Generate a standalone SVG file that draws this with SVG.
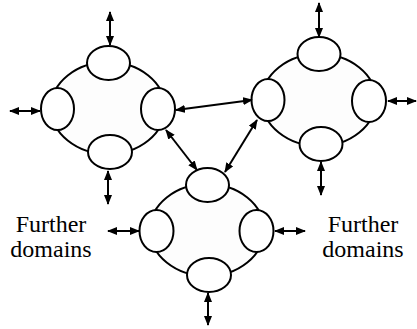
<svg xmlns="http://www.w3.org/2000/svg" width="417" height="329" viewBox="0 0 417 329">
<defs>
<marker id="ah" viewBox="0 0 10 8" refX="9" refY="4" markerWidth="10" markerHeight="8" markerUnits="userSpaceOnUse" orient="auto-start-reverse">
<path d="M0,0 L10,4 L0,8 z" fill="#000"/>
</marker>
<style>
.ring{fill:#fdfdfd;stroke:#000;stroke-width:2}
.port{fill:#fff;stroke:#000;stroke-width:2}
.arr{fill:none;stroke:#000;stroke-width:2;marker-start:url(#ah);marker-end:url(#ah)}
.lbl{font-family:"Liberation Serif","Times New Roman",serif;font-size:24px;fill:#000;text-anchor:middle}
</style>
</defs>
<rect width="417" height="329" fill="#fff"/>
<g id="domain1">
<ellipse class="ring" cx="108" cy="108" rx="57" ry="46"/>
<ellipse class="port" cx="108.5" cy="63" rx="21.5" ry="17"/>
<ellipse class="port" cx="57.5" cy="109" rx="16.5" ry="21"/>
<ellipse class="port" cx="158" cy="109" rx="17" ry="21"/>
<ellipse class="port" cx="110" cy="152" rx="22" ry="17"/>
</g>
<g id="domain2">
<ellipse class="ring" cx="319" cy="100" rx="57" ry="46"/>
<ellipse class="port" cx="319" cy="54" rx="21.5" ry="17"/>
<ellipse class="port" cx="268" cy="100" rx="16.5" ry="21"/>
<ellipse class="port" cx="369" cy="101" rx="17" ry="21"/>
<ellipse class="port" cx="321" cy="144" rx="21.5" ry="17"/>
</g>
<g id="domain3">
<ellipse class="ring" cx="207" cy="230" rx="57" ry="46"/>
<ellipse class="port" cx="207.5" cy="185" rx="21.5" ry="17"/>
<ellipse class="port" cx="156.5" cy="231" rx="17" ry="21"/>
<ellipse class="port" cx="256.5" cy="231" rx="17" ry="21"/>
<ellipse class="port" cx="209" cy="275" rx="22" ry="17"/>
</g>
<g id="connectors">
<line class="arr" x1="110" y1="12" x2="110" y2="45"/>
<line class="arr" x1="10" y1="111" x2="40" y2="111"/>
<line class="arr" x1="108" y1="171" x2="108" y2="204"/>
<line class="arr" x1="176" y1="110" x2="252" y2="100"/>
<line class="arr" x1="166" y1="130" x2="197" y2="170"/>
<line class="arr" x1="257" y1="120" x2="225" y2="172"/>
<line class="arr" x1="319" y1="3" x2="319" y2="37"/>
<line class="arr" x1="388" y1="101" x2="416" y2="101"/>
<line class="arr" x1="321" y1="162" x2="321" y2="195"/>
<line class="arr" x1="108" y1="231" x2="139" y2="231"/>
<line class="arr" x1="275" y1="231" x2="305" y2="231"/>
<line class="arr" x1="208" y1="293" x2="208" y2="325"/>
</g>
<g id="label-left">
<text class="lbl" x="51" y="232">Further</text>
<text class="lbl" x="51" y="257">domains</text>
</g>
<g id="label-right">
<text class="lbl" x="363" y="232">Further</text>
<text class="lbl" x="363" y="257">domains</text>
</g>
</svg>
